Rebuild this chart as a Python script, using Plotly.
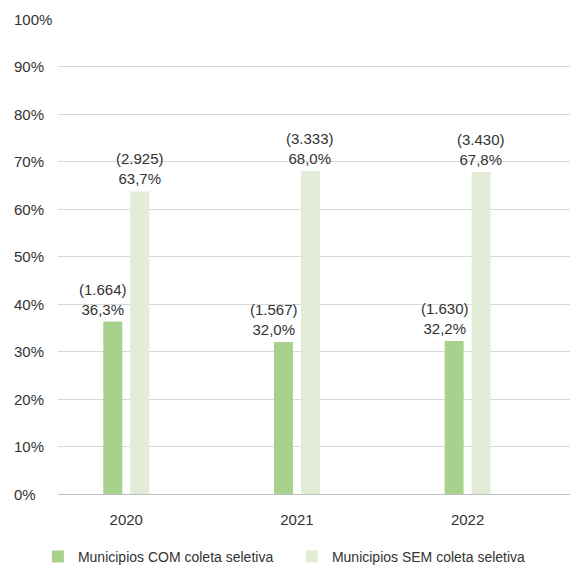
import plotly.graph_objects as go

# Data
anos = ["2020", "2021", "2022"]
com_pct = [36.3, 32.0, 32.2]
com_qtd = [1664, 1567, 1630]
sem_pct = [63.7, 68.0, 67.8]
sem_qtd = [2925, 3333, 3430]
y_ticks = [0, 10, 20, 30, 40, 50, 60, 70, 80, 90, 100]

FONT = "Liberation Sans, Arial, sans-serif"
TXT = "#333333"
FS = 15


def fmt_pct(v):
    return f"{v:.1f}".replace(".", ",") + "%"


def fmt_qtd(n):
    return f"({n:,})".replace(",", ".")


fig = go.Figure()
fig.add_trace(go.Bar(
    x=anos, y=com_pct,
    name="Municipios COM coleta seletiva",
    marker=dict(color="#a9d18e", line=dict(width=0)),
    hovertemplate="%{x}: %{y:.1f}%<extra></extra>",
))
fig.add_trace(go.Bar(
    x=anos, y=sem_pct,
    name="Municipios SEM coleta seletiva",
    marker=dict(color="#e2ecd6", line=dict(width=0)),
    hovertemplate="%{x}: %{y:.1f}%<extra></extra>",
))

# value labels above the bars (category index positions on the x axis):
# the COM label ends at the gap between the pair, the SEM label is centred
for i, (p, n) in enumerate(zip(com_pct, com_qtd)):
    fig.add_annotation(
        x=i, y=p, xref="x", yref="y", xanchor="right", yanchor="bottom",
        xshift=3, yshift=2, align="center", showarrow=False,
        text=f"{fmt_qtd(n)}<br>{fmt_pct(p)}",
        font=dict(family=FONT, size=FS, color=TXT),
    )
for i, (p, n) in enumerate(zip(sem_pct, sem_qtd)):
    fig.add_annotation(
        x=i, y=p, xref="x", yref="y", xanchor="center", yanchor="bottom",
        xshift=13.5, yshift=2, align="center", showarrow=False,
        text=f"{fmt_qtd(n)}<br>{fmt_pct(p)}",
        font=dict(family=FONT, size=FS, color=TXT),
    )

# left-aligned percentage labels on the value axis
for v in y_ticks:
    fig.add_annotation(
        x=-0.09, xref="paper", xanchor="left",
        y=v, yref="y", yanchor="middle",
        text=f"{v}%", showarrow=False,
        font=dict(family=FONT, size=FS, color=TXT),
    )

fig.update_layout(
    width=583, height=567,
    margin=dict(l=58, r=13, t=19, b=73),
    paper_bgcolor="white", plot_bgcolor="white",
    barmode="group", bargap=0.684, bargroupgap=0.296,
    font=dict(family=FONT, size=FS, color=TXT),
    showlegend=True,
    legend=dict(
        orientation="h",
        xref="container", x=0.065, xanchor="left",
        yref="container", y=0.018, yanchor="middle",
        entrywidth=209, entrywidthmode="pixels",
        font=dict(family=FONT, size=14, color=TXT),
        traceorder="normal",
    ),
)
fig.update_xaxes(
    type="category", range=[-0.4, 2.6],
    showline=True, linecolor="#bfbfbf", linewidth=1,
    showgrid=False, ticks="", ticklabelstandoff=12,
    tickfont=dict(family=FONT, size=FS, color=TXT),
)
fig.update_yaxes(
    range=[0, 100], tickvals=y_ticks, showticklabels=False,
    showgrid=True, gridcolor="#d9d9d9", gridwidth=1,
    zeroline=False,
)

fig.write_html("out.html")
